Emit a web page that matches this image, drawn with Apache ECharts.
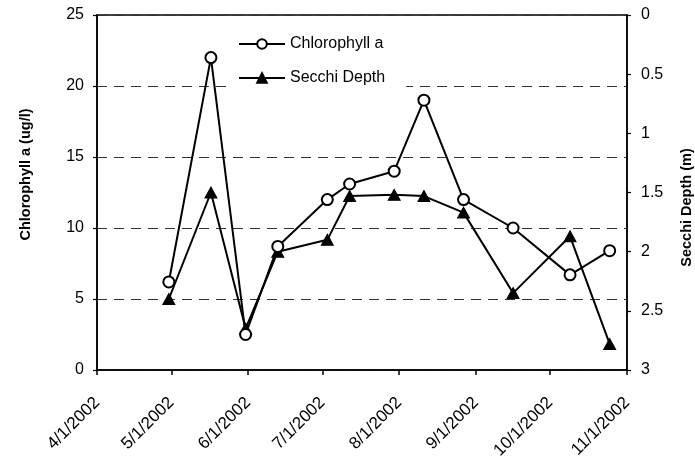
<!DOCTYPE html>
<html>
<head>
<meta charset="utf-8">
<script src="https://cdn.jsdelivr.net/npm/echarts@6/dist/echarts.min.js"></script>
<style>html,body{margin:0;padding:0;background:#fff}#c{width:695px;height:467px}</style>
</head>
<body>
<div id="c"></div>
<script>
const sampleDates = ['2002-04-30','2002-05-17','2002-05-31','2002-06-13','2002-07-03','2002-07-12','2002-07-30','2002-08-11','2002-08-27','2002-09-16','2002-10-09','2002-10-25'];
const chlorophyll = [6.2, 22.0, 2.5, 8.7, 12.0, 13.1, 14.0, 19.0, 12.0, 10.0, 6.7, 8.4];
const secchiDepth = [2.4, 1.5, 2.65, 2.0, 1.9, 1.53, 1.52, 1.53, 1.67, 2.35, 1.87, 2.78];
const monthTicks = ['2002-04-01','2002-05-01','2002-06-01','2002-07-01','2002-08-01','2002-09-01','2002-10-01','2002-11-01'];

function toTs(s){const p=s.split('-').map(Number);return Date.UTC(p[0],p[1]-1,p[2]);}
function fmt(v){const d=new Date(v);return (d.getUTCMonth()+1)+'/'+d.getUTCDate()+'/'+d.getUTCFullYear();}
const tickTs = monthTicks.map(toTs);
const FONT = "'Liberation Sans', Arial, sans-serif";

const chart = echarts.init(document.getElementById('c'));
chart.setOption({
  animation:false,
  backgroundColor:'#fff',
  textStyle:{fontFamily:FONT,color:'#000'},
  grid:{left:97,right:68,top:15,bottom:97,outerBoundsMode:'none',containLabel:false,show:true,borderColor:'#000',borderWidth:1.5,backgroundColor:'transparent'},
  legend:{
    orient:'vertical',left:232,top:30,
    backgroundColor:'#fff',padding:[6,21,6,6],
    itemWidth:46,itemHeight:12,itemGap:18,
    textStyle:{fontFamily:FONT,fontSize:16,color:'#000'},
    data:['Chlorophyll a','Secchi Depth']
  },
  xAxis:{
    type:'value',
    min:tickTs[0],max:tickTs[tickTs.length-1],
    axisLine:{lineStyle:{color:'#000',width:1.5}},
    axisTick:{show:true,length:5,lineStyle:{color:'#000',width:1.5},customValues:tickTs},
    axisLabel:{rotate:45,fontSize:17,color:'#000',fontFamily:FONT,margin:30,customValues:tickTs,formatter:v=>fmt(v),hideOverlap:false},
    splitLine:{show:false}
  },
  yAxis:[{
    type:'value',min:0,max:25,interval:5,
    name:'Chlorophyll a (ug/l)',nameLocation:'middle',nameGap:64,nameRotate:90,
    nameTextStyle:{fontSize:14.5,fontWeight:'bold',color:'#000',fontFamily:FONT,padding:[0,0,0,36]},
    axisLine:{show:true,lineStyle:{color:'#000',width:1.5}},
    axisTick:{show:true,length:4,lineStyle:{color:'#000',width:1.2}},
    axisLabel:{fontSize:16,color:'#000',fontFamily:FONT,margin:13},
    splitLine:{show:true,lineStyle:{color:'#333',width:1.2,type:[10,7]}}
  },{
    type:'value',min:0,max:3,interval:0.5,inverse:true,position:'right',
    name:'Secchi Depth (m)',nameLocation:'middle',nameGap:52,nameRotate:90,
    nameTextStyle:{fontSize:14.5,fontWeight:'bold',color:'#000',fontFamily:FONT,padding:[0,30,0,0]},
    axisLine:{show:true,lineStyle:{color:'#000',width:1.5}},
    axisTick:{show:true,length:4,lineStyle:{color:'#000',width:1.2}},
    axisLabel:{fontSize:16,color:'#000',fontFamily:FONT,margin:14},
    splitLine:{show:false}
  }],
  series:[{
    name:'Chlorophyll a',type:'line',yAxisIndex:0,
    data:sampleDates.map((d,i)=>[toTs(d),chlorophyll[i]]),
    symbol:'circle',symbolSize:11,showAllSymbol:true,
    lineStyle:{color:'#000',width:2},
    itemStyle:{color:'#fff',borderColor:'#000',borderWidth:2},
    z:3
  },{
    name:'Secchi Depth',type:'line',yAxisIndex:1,
    data:sampleDates.map((d,i)=>[toTs(d),secchiDepth[i]]),
    symbol:'triangle',symbolSize:[12,11],showAllSymbol:true,
    lineStyle:{color:'#000',width:2},
    itemStyle:{color:'#000',borderColor:'#000',borderWidth:1},
    z:2
  }]
});
</script>
</body>
</html>
